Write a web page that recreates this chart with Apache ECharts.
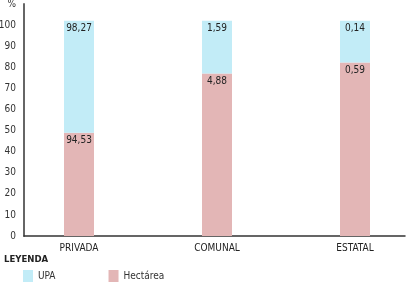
<!DOCTYPE html>
<html>
<head>
<meta charset="utf-8">
<script src="https://cdn.jsdelivr.net/npm/echarts@6/dist/echarts.min.js"></script>
<style>
  html, body { margin: 0; padding: 0; background: #fff; }
  #chart { width: 408px; height: 283px; }
</style>
</head>
<body>
<div id="chart"></div>
<script>
var categories = ['PRIVADA', 'COMUNAL', 'ESTATAL'];
// bar heights as drawn (percent scale)
var hectareaHeight = [49, 77, 82.3];
var upaHeight = [53, 25, 19.7];
// printed values
var hectareaLabel = ['94,53', '4,88', '0,59'];
var upaLabel = ['98,27', '1,59', '0,14'];
var yTicks = [0, 10, 20, 30, 40, 50, 60, 70, 80, 90, 100];

var font = "'Liberation Sans Narrow', 'DejaVu Sans Condensed', sans-serif";
var myChart = echarts.init(document.getElementById('chart'));

var option = {
    animation: false,
    textStyle: { fontFamily: font },
    title: {
        text: 'LEYENDA',
        left: 4,
        top: 255,
        padding: 0,
        textStyle: { fontSize: 9.5, fontWeight: 'bold', color: '#222', fontFamily: font }
    },
    legend: {
        left: 23,
        top: 270,
        padding: 0,
        itemWidth: 10,
        itemHeight: 12,
        itemGap: 53,
        icon: 'rect',
        data: ['UPA', 'Hectárea'],
        textStyle: { fontSize: 10, color: '#333', fontFamily: font }
    },
    grid: [
        { left: 10, right: -16, top: 4, bottom: 47, outerBoundsMode: 'none' },   // bars
        { left: 24, right: 3, top: 4, bottom: 47, outerBoundsMode: 'none' }      // visible axes
    ],
    xAxis: [
        {
            gridIndex: 0,
            type: 'category',
            data: categories,
            axisLine: { show: false },
            axisTick: { show: false },
            axisLabel: { margin: 7, fontSize: 10, color: '#222', fontFamily: font }
        },
        {
            gridIndex: 1,
            type: 'category',
            data: [''],
            axisLine: { lineStyle: { color: '#333', width: 1.5 } },
            axisTick: { show: false },
            axisLabel: { show: false }
        }
    ],
    yAxis: [
        { gridIndex: 0, type: 'value', min: 0, max: 110, show: false },
        {
            gridIndex: 1,
            type: 'value',
            min: 0,
            max: 110,
            interval: 10,
            splitLine: { show: false },
            axisTick: { show: false },
            axisLine: { show: true, lineStyle: { color: '#666', width: 2 } },
            axisLabel: {
                margin: 8,
                fontSize: 10,
                color: '#333',
                fontFamily: font,
                formatter: function (v) {
                    if (yTicks.indexOf(v) >= 0) return String(v);
                    return v === 110 ? '%' : '';
                }
            }
        }
    ],
    series: [
        {
            name: 'Hectárea',
            type: 'bar',
            stack: 'total',
            xAxisIndex: 0,
            yAxisIndex: 0,
            barWidth: 30,
            itemStyle: { color: '#e3b6b6' },
            label: {
                show: true,
                position: 'insideTop',
                distance: 3,
                fontSize: 10,
                color: '#222',
                fontFamily: font,
                formatter: function (p) { return hectareaLabel[p.dataIndex]; }
            },
            data: hectareaHeight
        },
        {
            name: 'UPA',
            type: 'bar',
            stack: 'total',
            xAxisIndex: 0,
            yAxisIndex: 0,
            barWidth: 30,
            itemStyle: { color: '#c2ecf7' },
            label: {
                show: true,
                position: 'insideTop',
                distance: 3,
                fontSize: 10,
                color: '#222',
                fontFamily: font,
                formatter: function (p) { return upaLabel[p.dataIndex]; }
            },
            data: upaHeight
        }
    ]
};
myChart.setOption(option);
</script>
</body>
</html>
